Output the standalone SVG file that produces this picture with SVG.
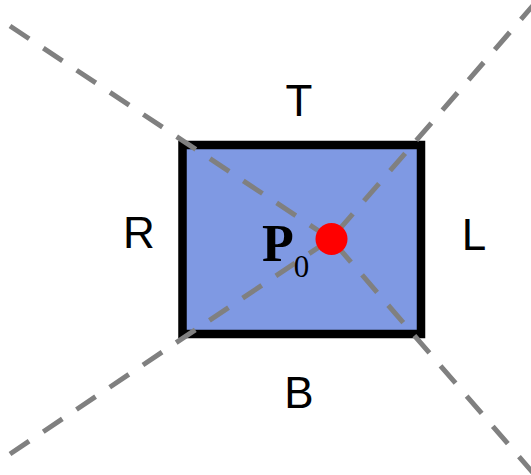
<svg xmlns="http://www.w3.org/2000/svg" width="531" height="475" viewBox="0 0 531 475">
<style>
.lbl{font-family:"Liberation Sans",Arial,sans-serif;font-size:44px;fill:#000;text-anchor:middle}
.ray{stroke:#808080;stroke-width:5;stroke-dasharray:23 17;fill:none}
</style>
<rect width="531" height="475" fill="#fff"/>
<g id="box"><rect x="182.5" y="145" width="238.5" height="189" fill="#7f99e3" stroke="#000" stroke-width="8.5"/></g>
<g id="connectors">
<line class="ray" x1="10" y1="26" x2="331" y2="239"/>
<line class="ray" x1="10" y1="454" x2="331" y2="239"/>
<line class="ray" x1="536" y1="2" x2="331" y2="239"/>
<line class="ray" x1="534" y1="474" x2="331" y2="239"/>
</g>
<g id="p0">
<circle cx="331.5" cy="239" r="16" fill="#ff0000"/>
<text x="262" y="261" font-family="'Liberation Serif','Times New Roman',serif" font-size="52" font-weight="bold">P<tspan font-weight="normal" font-size="31" dy="16">0</tspan></text>
</g>
<g id="T"><text class="lbl" x="299" y="116">T</text></g>
<g id="R"><text class="lbl" x="139" y="248">R</text></g>
<g id="L"><text class="lbl" x="474" y="250">L</text></g>
<g id="B"><text class="lbl" x="299" y="408">B</text></g>
</svg>
